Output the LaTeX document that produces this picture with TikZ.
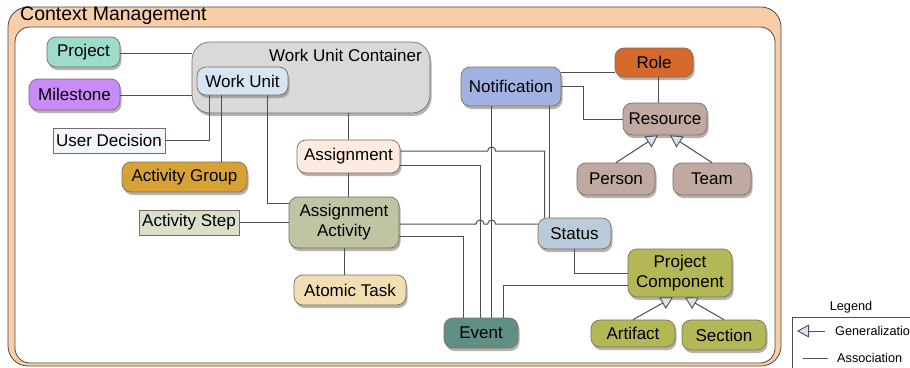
\documentclass[tikz,border=0pt]{standalone}
\usepackage{fontspec}
\setmainfont{Liberation Sans}
\usetikzlibrary{shadows,arrows.meta,calc}
\definecolor{frameor}{HTML}{F9CDA8}
\definecolor{framebd}{HTML}{4A4A4A}
\definecolor{nodebd}{HTML}{7C6E66}
\definecolor{linec}{HTML}{4F4F4F}
\definecolor{shadowc}{HTML}{8A8078}
\definecolor{arrowfill}{HTML}{D6E3F3}
\definecolor{cprj}{HTML}{9DDBCB}
\definecolor{cmil}{HTML}{C98BF7}
\definecolor{cwuc}{HTML}{D9D9D9}
\definecolor{cwu}{HTML}{D6E5F2}
\definecolor{cud}{HTML}{F0F6FC}
\definecolor{cag}{HTML}{D6A235}
\definecolor{casg}{HTML}{FDEBDF}
\definecolor{caa}{HTML}{C0C4A3}
\definecolor{cas}{HTML}{D8E0CB}
\definecolor{cat}{HTML}{F1DEB3}
\definecolor{cnot}{HTML}{A2B2E0}
\definecolor{crole}{HTML}{D56A2A}
\definecolor{cres}{HTML}{C0A9A0}
\definecolor{cst}{HTML}{BACCDC}
\definecolor{cpc}{HTML}{B4B755}
\definecolor{cev}{HTML}{5F8F85}
\begin{document}
\begin{tikzpicture}[x=1pt,y=-1pt,
  nodefont/.style={font=\fontsize{17}{20}\selectfont},
  box/.style={nodefont, draw=nodebd, line width=0.7pt, rounded corners=9pt, align=center, inner sep=0pt,
    drop shadow={shadow xshift=1.5pt,shadow yshift=-3pt,fill=shadowc,opacity=0.6}},
  sqbox/.style={nodefont, draw=nodebd, line width=0.6pt, align=center, inner sep=0pt},
  conn/.style={draw=linec, line width=1pt},
  gen/.style={conn, -{Triangle[length=12pt,width=13pt,fill=arrowfill,line width=0.9pt]}},
  legfont/.style={font=\fontsize{12.7}{15}\selectfont}
]
\useasboundingbox (0,0) rectangle (910,367);
% frame
\draw[fill=frameor, draw=framebd, line width=0.8pt, rounded corners=20pt] (8,7) rectangle (781,366);
\draw[fill=white, draw=framebd, line width=0.8pt, rounded corners=15pt] (15,27) rectangle (775,363);
\node[anchor=west, font=\fontsize{19.5}{22}\selectfont, inner sep=0pt] (title) at (20,16) {Context Management};

% work unit container
\node[draw=nodebd, fill=cwuc, line width=0.7pt, rounded corners=18pt, minimum width=238pt, minimum height=71pt, inner sep=0pt,
  drop shadow={shadow xshift=1.5pt,shadow yshift=-3pt,fill=shadowc,opacity=0.6}] (wuc) at (311,77.5) {};
\node[nodefont, anchor=east, inner sep=0pt] (wuct) at (422,55) {Work Unit Container};

% nodes
\node[box, fill=cprj, minimum width=73pt, minimum height=30pt] (prj) at (83.5,52) {Project};
\node[box, fill=cmil, minimum width=91pt, minimum height=31pt] (mil) at (74.5,94.5) {Milestone};
\node[box, fill=cwu, minimum width=91pt, minimum height=28pt] (wu) at (242.5,81) {Work Unit};
\node[sqbox, fill=cud, minimum width=112pt, minimum height=25pt] (ud) at (109,140.5) {User Decision};
\node[box, fill=cag, minimum width=125pt, minimum height=30pt] (ag) at (184.5,177) {Activity Group};
\node[box, fill=casg, minimum width=103pt, minimum height=33pt] (asg) at (348.5,156.5) {Assignment};
\node[box, fill=caa, minimum width=110pt, minimum height=51pt] (aa) at (344,222.5) {Assignment\\Activity};
\node[sqbox, fill=cas, minimum width=100pt, minimum height=25pt] (as) at (189,222.5) {Activity Step};
\node[box, fill=cat, minimum width=112pt, minimum height=30pt] (at) at (350,290) {Atomic Task};
\node[box, fill=cnot, minimum width=100pt, minimum height=39pt] (not) at (511,86.5) {Notification};
\node[box, fill=crole, minimum width=78pt, minimum height=29pt] (role) at (654,62.5) {Role};
\node[box, fill=cres, minimum width=84pt, minimum height=32pt] (res) at (665,119) {Resource};
\node[box, fill=cres, minimum width=78pt, minimum height=32pt] (per) at (616,179) {Person};
\node[box, fill=cres, minimum width=78pt, minimum height=32pt] (team) at (712,179) {Team};
\node[box, fill=cst, minimum width=73pt, minimum height=31pt] (st) at (574.5,233.5) {Status};
\node[box, fill=cpc, minimum width=104pt, minimum height=48pt] (pc) at (680,273) {Project\\Component};
\node[box, fill=cpc, minimum width=84pt, minimum height=27pt] (art) at (633,333.5) {Artifact};
\node[box, fill=cpc, minimum width=84pt, minimum height=30pt] (sec) at (724,335) {Section};
\node[box, fill=cev, minimum width=74pt, minimum height=30pt] (ev) at (481,333) {Event};

% helper coordinates
\coordinate (xN1) at ([xshift=31pt]not.south west);
\coordinate (xN2) at ([xshift=89pt]not.south west);
\coordinate (xS) at ([xshift=7pt]st.north west);
\coordinate (xE2) at ([xshift=-1pt]ev.north);

% connectors
\draw[conn] ([yshift=-1pt]prj.east) -- ([yshift=-1pt]prj.east -| wuc.west);
\draw[conn] ([yshift=-0.5pt]mil.east) -- ([yshift=-0.5pt]mil.east -| wuc.west);
\draw[conn] ([xshift=13pt]wu.south west) |- (ud.east);
\draw[conn] ([xshift=25pt]wu.south west) -- ([xshift=25pt]wu.south west |- ag.north);
\draw[conn] ([xshift=71pt]wu.south west) |- ([yshift=19.5pt]aa.west);
\draw[conn] (asg.north) -- (asg.north |- wuc.south);
\draw[conn] (asg.south) -- (asg.south |- aa.north);
\draw[conn] (as.east) -- (aa.west);
\draw[conn] (aa.south) -- (aa.south |- at.north);
% assignment upper -> status
\draw[conn] ([yshift=5.5pt]asg.east) coordinate (a1) -- ($(a1 -| xN1)+(-4,0)$) arc[start angle=180,end angle=0,radius=4pt]
  -- (a1 -| xS) -- (xS |- st.north);
% assignment lower -> event
\draw[conn] ([yshift=-8.5pt]asg.east) -| (xE2);
% assignment activity upper -> status
\draw[conn] ([yshift=-1.5pt]aa.east) coordinate (a3) -- ($(a3 -| xE2)+(-4,0)$) arc[start angle=180,end angle=0,radius=4pt]
  -- ($(a3 -| xN1)+(-4,0)$) arc[start angle=180,end angle=0,radius=4pt] -- (a3 -| st.west);
% assignment activity lower -> event
\draw[conn] ([yshift=-13.5pt]aa.east) -| ([xshift=-18pt]ev.north);
% notification -> event, status
\draw[conn] (xN1) -- (xN1 |- ev.north);
\draw[conn] (xN2) -- (xN2 |- st.north);
% project component -> event
\draw[conn] ([yshift=-12pt]pc.west) -| ([xshift=22pt]ev.north);
% status -> project component
\draw[conn] (st.south) |- (pc.west);
% notification -> role, resource
\draw[conn] ([yshift=14.5pt]not.east) -- ([yshift=14.5pt]not.east -| role.west);
\draw[conn] (not.east) -- ++(22,0) |- (res.west);
\draw[conn] ([xshift=4pt]role.south) -- ([xshift=4pt]role.south |- res.north);
% generalizations
\draw[gen] (per.north) -- ([xshift=-7pt]res.south);
\draw[gen] (team.north) -- ([xshift=5pt]res.south);
\draw[gen] (art.north) -- ([xshift=-7pt]pc.south);
\draw[gen] (sec.north) -- ([xshift=5pt]pc.south);

% legend
\node[legfont, inner sep=0pt] (lg) at (851,307) {Legend};
\draw[draw=linec, line width=0.6pt] (792,317) rectangle (915,372);
\node[legfont, anchor=west, inner sep=0pt] (lgg) at (835,331) {Generalizatio};
\node[legfont, anchor=west, inner sep=0pt] (lga) at (837,358) {Association};
\draw[gen] ([xshift=-10pt]lgg.west) -- ++(-28,0);
\draw[conn] ([xshift=-9pt]lga.west) -- ++(-25,0);
\end{tikzpicture}
\end{document}
